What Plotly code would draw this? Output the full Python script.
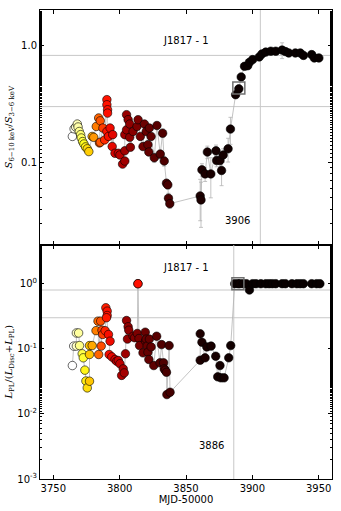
import numpy as np
import plotly.graph_objects as go
from plotly.subplots import make_subplots

# --- top panel: hardness S(6-10 keV)/S(3-6 keV) ---
mjd_top = [3764.4, 3765.7, 3766.9, 3768.1, 3768.7, 3769.6, 3770.6, 3771.1, 3772.1, 3773.1,
           3774.3, 3775.6, 3776.8, 3779.3, 3780.5, 3782.4, 3784.2, 3785.4, 3784.8, 3785.4,
           3787.4, 3788.7, 3790.4, 3790.4, 3790.9, 3790.9, 3790.4, 3791.6, 3792.8, 3794.4,
           3794.8, 3796.5, 3799.0, 3800.2, 3802.2, 3803.9, 3803.9, 3803.9, 3805.2, 3805.2,
           3806.4, 3807.6, 3807.6, 3808.1, 3810.1, 3813.1, 3813.9, 3815.6, 3817.6, 3818.7,
           3820.0, 3821.3, 3822.0, 3822.4, 3823.7, 3826.1, 3828.1, 3830.6, 3832.4, 3833.6,
           3835.3, 3836.3, 3836.8, 3837.8, 3860.7, 3861.3, 3862.0, 3864.4, 3866.1, 3868.7,
           3872.6, 3873.1, 3875.6, 3876.8, 3878.0, 3881.7, 3883.5, 3887.4, 3889.8, 3891.6,
           3894.1, 3896.5, 3897.8, 3900.2, 3905.2, 3907.2, 3910.1, 3913.9, 3917.6, 3922.4,
           3924.9, 3927.4, 3932.4, 3936.1, 3938.5, 3944.7, 3946.7, 3950.1]
ratio_top = [0.167, 0.194, 0.201, 0.213, 0.201, 0.184, 0.173, 0.162, 0.151, 0.144,
             0.136, 0.131, 0.124, 0.167, 0.164, 0.203, 0.240, 0.227, 0.147, 0.149,
             0.197, 0.156, 0.344, 0.311, 0.282, 0.264, 0.184, 0.167, 0.197, 0.137,
             0.173, 0.120, 0.120, 0.116, 0.097, 0.103, 0.126, 0.173, 0.190, 0.256,
             0.232, 0.213, 0.164, 0.135, 0.184, 0.203, 0.232, 0.167, 0.137, 0.213,
             0.184, 0.142, 0.123, 0.197, 0.167, 0.110, 0.207, 0.118, 0.178, 0.103,
             0.0667, 0.0645, 0.0497, 0.0446, 0.0519, 0.048, 0.0867, 0.080, 0.123, 0.080,
             0.126, 0.104, 0.104, 0.0855, 0.116, 0.131, 0.193, 0.379, 0.425, 0.537,
             0.662, 0.670, 0.716, 0.755, 0.796, 0.844, 0.875, 0.890, 0.890, 0.910,
             0.884, 0.860, 0.860, 0.860, 0.820, 0.833, 0.780, 0.780]
err_top = [0.004, 0.004, 0.004, 0.004, 0.004, 0.004, 0.004, 0.004, 0.004, 0.004,
           0.004, 0.004, 0.004, 0.004, 0.004, 0.005, 0.005, 0.005, 0.004, 0.004,
           0.005, 0.005, 0.008, 0.008, 0.007, 0.007, 0.005, 0.005, 0.005, 0.005,
           0.005, 0.005, 0.005, 0.005, 0.005, 0.005, 0.006, 0.006, 0.006, 0.008,
           0.008, 0.008, 0.006, 0.006, 0.008, 0.01, 0.01, 0.008, 0.008, 0.01,
           0.01, 0.008, 0.008, 0.01, 0.01, 0.01, 0.012, 0.01, 0.015, 0.01,
           0.005, 0.005, 0.005, 0.004, 0.02, 0.02, 0.011, 0.011, 0.015, 0.03,
           0.015, 0.012, 0.012, 0.022, 0.015, 0.03, 0.05, 0.02, 0.02, 0.02,
           0.02, 0.02, 0.02, 0.02, 0.02, 0.02, 0.03, 0.03, 0.03, 0.14,
           0.03, 0.03, 0.03, 0.03, 0.03, 0.03, 0.03, 0.03]

# --- bottom panel: power-law fraction L_PL/(L_Disc+L_PL) ---
mjd_bot = [3764.4, 3765.4, 3767.4, 3767.4, 3769.1, 3769.8, 3771.8, 3772.6, 3773.8, 3774.6,
           3775.6, 3777.3, 3777.3, 3777.3, 3779.3, 3782.2, 3783.7, 3784.2, 3785.7, 3786.1,
           3786.7, 3787.2, 3789.1, 3789.6, 3790.6, 3790.6, 3790.1, 3791.6, 3792.8, 3792.1,
           3794.1, 3796.5, 3797.8, 3799.0, 3800.2, 3801.5, 3802.7, 3803.5, 3804.4, 3805.2,
           3805.9, 3806.4, 3806.9, 3810.1, 3811.3, 3813.3, 3813.8, 3814.6, 3815.0, 3817.6,
           3819.3, 3819.5, 3820.0, 3820.7, 3821.3, 3822.0, 3822.4, 3823.7, 3825.7, 3827.9,
           3830.4, 3831.6, 3833.1, 3833.6, 3834.3, 3835.3, 3835.6, 3837.3, 3838.0, 3860.7,
           3860.7, 3862.0, 3864.4, 3865.7, 3868.9, 3872.4, 3873.9, 3875.6, 3876.3, 3878.7,
           3882.2, 3883.7, 3886.7, 3889.1, 3890.5, 3893.0, 3895.5, 3897.8, 3900.2, 3902.7,
           3906.4, 3910.1, 3912.6, 3915.0, 3917.6, 3922.4, 3924.9, 3929.8, 3933.5, 3936.0,
           3938.5, 3944.7, 3948.4, 3950.9]
frac_bot = [0.0553, 0.110, 0.110, 0.175, 0.175, 0.112, 0.0838, 0.0727, 0.047, 0.032,
            0.0251, 0.0318, 0.112, 0.0817, 0.112, 0.190, 0.266, 0.0817, 0.266, 0.110,
            0.193, 0.166, 0.190, 0.427, 0.379, 0.325, 0.300, 0.166, 0.131, 0.0817,
            0.0752, 0.0685, 0.0645, 0.066, 0.059, 0.039, 0.0492, 0.0427, 0.0838, 0.272,
            0.141, 0.218, 0.193, 0.156, 0.148, 0.172, 1.0, 0.144, 0.112, 0.0867,
            0.180, 0.131, 0.141, 0.110, 0.0885, 0.0685, 0.141, 0.107, 0.0553, 0.156,
            0.0609, 0.116, 0.0609, 0.0492, 0.0469, 0.0436, 0.0198, 0.112, 0.0215, 0.0668,
            0.170, 0.126, 0.0727, 0.107, 0.110, 0.0769, 0.0371, 0.0553, 0.0358, 0.0358,
            0.0727, 0.112, 1.0, 1.0, 1.0, 1.0, 1.0, 0.80, 1.0, 1.0,
            1.0, 1.0, 1.0, 1.0, 1.0, 1.0, 1.0, 1.0, 1.0, 1.0,
            1.0, 1.0, 1.0, 1.0]

# odd point in the bottom panel drawn in bright red
odd_mjd = [3813.8]
odd_frac = [1.0]

# boxed observation
box_mjd_top, box_ratio_top = [3889.8], [0.432]
box_mjd_bot, box_frac_bot = [3889.1], [1.0]

# reference lines
hlines_top = [0.82, 0.30]
hlines_bot = [0.80, 0.30]
vline_top = 3906
vline_bot = 3886

x_range = [3740, 3960]
x_ticks = [3750, 3800, 3850, 3900, 3950]

# hot_r-like scale on MJD
mjd_min, mjd_max = 3765, 3900
hot_scale = [[0.0, "#ffffff"], [0.03, "#ffffa0"], [0.06, "#ffff20"], [0.09, "#ffc800"],
             [0.12, "#ff8c00"], [0.16, "#ff4500"], [0.19, "#ff1000"], [0.24, "#d00000"],
             [0.30, "#960000"], [0.40, "#6a0000"], [0.55, "#420000"], [0.72, "#1c0000"],
             [1.0, "#080000"]]

grey = "#b4b4b4"
font = "DejaVu Sans"

fig = make_subplots(rows=2, cols=1, shared_xaxes=True, vertical_spacing=0)


def add_panel(row, x, y, err=None):
    fig.add_trace(go.Scatter(
        x=x, y=y, mode="lines", line=dict(color=grey, width=0.8),
        error_y=dict(type="data", array=err, color=grey, thickness=0.8, width=2) if err else None,
        showlegend=False, hoverinfo="skip"), row=row, col=1)
    fig.add_trace(go.Scatter(
        x=x, y=y, mode="markers",
        marker=dict(size=8.5, color=x, colorscale=hot_scale, cmin=mjd_min, cmax=mjd_max,
                    line=dict(color="black", width=0.6)),
        showlegend=False), row=row, col=1)


add_panel(1, mjd_top, ratio_top, err_top)
add_panel(2, mjd_bot, frac_bot)

fig.add_trace(go.Scatter(x=odd_mjd, y=odd_frac, mode="markers",
                         marker=dict(size=8.5, color="#ff1000", line=dict(color="black", width=0.6)),
                         showlegend=False), row=2, col=1)

for row, bx, by in [(1, box_mjd_top, box_ratio_top), (2, box_mjd_bot, box_frac_bot)]:
    fig.add_trace(go.Scatter(x=bx, y=by, mode="markers",
                             marker=dict(symbol="square-open", size=12, color="#707070",
                                         line=dict(color="#707070", width=1.5)),
                             showlegend=False), row=row, col=1)

# reference lines as plain traces
for row, levels, yr, vx in [(1, hlines_top, [0.02, 2.0], vline_top),
                            (2, hlines_bot, [1e-3, 4.0], vline_bot)]:
    for lev in levels:
        fig.add_trace(go.Scatter(x=x_range, y=[lev, lev], mode="lines",
                                 line=dict(color="#c8c8c8", width=1),
                                 showlegend=False, hoverinfo="skip"), row=row, col=1)
    fig.add_trace(go.Scatter(x=[vx, vx], y=yr, mode="lines",
                             line=dict(color="#c8c8c8", width=1),
                             showlegend=False, hoverinfo="skip"), row=row, col=1)

# move reference lines to the back
fig.data = fig.data[-6:] + fig.data[:-6]

axis_common = dict(showline=True, linecolor="black", linewidth=1, mirror="ticks",
                   ticks="inside", ticklen=4, tickcolor="black", showgrid=False,
                   zeroline=False, tickfont=dict(family=font, size=10, color="black"))

fig.update_xaxes(range=x_range, tickvals=x_ticks, **axis_common)
fig.update_xaxes(showticklabels=False, row=1, col=1)
fig.update_xaxes(title=dict(text="MJD-50000", font=dict(family=font, size=10, color="black"),
                            standoff=2), row=2, col=1)

fig.update_yaxes(type="log", **axis_common,
                 minor=dict(ticks="inside", ticklen=2, tickcolor="black", showgrid=False))
fig.update_yaxes(range=[np.log10(0.02), np.log10(2.0)], tickvals=[0.1, 1.0],
                 ticktext=["0.1", "1.0"],
                 title=dict(text="<i>S</i><sub>6−10 keV</sub>/<i>S</i><sub>3−6 keV</sub>",
                            font=dict(family="DejaVu Serif", size=10, color="black"),
                            standoff=6), row=1, col=1)
fig.update_yaxes(range=[-3, np.log10(4.0)], tickvals=[1e-3, 1e-2, 1e-1, 1],
                 ticktext=["10<sup>-3</sup>", "10<sup>-2</sup>", "10<sup>-1</sup>", "10<sup>0</sup>"],
                 title=dict(text="<i>L</i><sub>PL</sub>/(<i>L</i><sub>Disc</sub>+<i>L</i><sub>PL</sub>)",
                            font=dict(family="DejaVu Serif", size=10, color="black"),
                            standoff=2), row=2, col=1)

ann_font = dict(family=font, size=10, color="black")
fig.add_annotation(text="J1817 - 1", x=0.5, y=0.951, xref="paper", yref="paper",
                   showarrow=False, font=ann_font)
fig.add_annotation(text="J1817 - 1", x=0.5, y=0.451, xref="paper", yref="paper",
                   showarrow=False, font=ann_font)
fig.add_annotation(text=str(vline_top), x=vline_top - 17, y=np.log10(0.032), xref="x", yref="y",
                   showarrow=False, font=ann_font)
fig.add_annotation(text=str(vline_bot), x=vline_bot - 17, y=-2.49, xref="x2", yref="y2",
                   showarrow=False, font=ann_font)

fig.update_layout(width=341, height=511, plot_bgcolor="white", paper_bgcolor="white",
                  margin=dict(l=37, r=8, t=10, b=31), font=dict(family=font, size=10))

# the page body has a default 8px margin; drop it so the figure fills the window
fig.write_html("out.html", config={"displayModeBar": False},
               post_script="document.body.style.margin='0';")
